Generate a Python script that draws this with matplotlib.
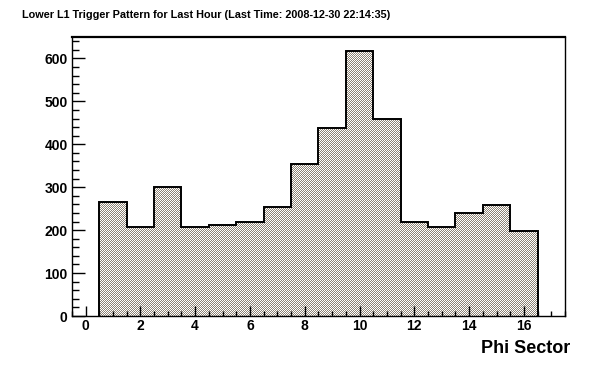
import numpy as np
import matplotlib
matplotlib.use("Agg")
import matplotlib.pyplot as plt
from matplotlib.ticker import MultipleLocator

# counts per phi sector (bins centred on 1..16)
sectors = list(range(1, 17))
counts = [265, 207, 300, 207, 213, 220, 255, 355, 439, 617, 459, 220, 207, 240, 258, 197]
title = "Lower L1 Trigger Pattern for Last Hour (Last Time: 2008-12-30 22:14:35)"
xlabel = "Phi Sector"

W, H = 596, 372
plt.rcParams["font.family"] = ["Liberation Sans", "DejaVu Sans"]
plt.rcParams["font.weight"] = "bold"

fig = plt.figure(figsize=(W / 100, H / 100), dpi=100)
fig.patch.set_facecolor("white")
# axes box in pixels: x 71.8..565, y 37..316
ax = fig.add_axes([71.8 / W, (H - 316) / H, 493.2 / W, 279 / H])
ax.set_facecolor("none")

edges = np.arange(len(sectors) + 1) + 0.5
step = ax.stairs(counts, edges, fill=True, facecolor="none", edgecolor="none", zorder=1)
ax.stairs(counts, edges, color="black", linewidth=1.4, zorder=3)

# ROOT style pixel checkerboard fill, clipped to histogram
yy, xx = np.mgrid[0:H, 0:W]
chk = ((xx + yy) % 2 == 0)
img = np.ones((H, W, 3))
img[chk] = np.array([140, 130, 116]) / 255
fi = fig.figimage(img, xo=0, yo=0, origin="lower", zorder=-1)
fi.set_clip_path(step)

ax.set_xlim(-0.5, 17.5)
ax.set_ylim(0, 650)
ax.xaxis.set_major_locator(MultipleLocator(2))
ax.xaxis.set_minor_locator(MultipleLocator(0.5))
ax.yaxis.set_major_locator(MultipleLocator(100))
ax.yaxis.set_minor_locator(MultipleLocator(20))
ax.tick_params(which="both", direction="in", top=False, right=False, width=1, color="black")
ax.tick_params(axis="x", which="major", length=7.5, pad=2.5, labelsize=10)
ax.tick_params(axis="x", which="minor", length=3.8)
ax.tick_params(axis="y", which="major", length=9.5, pad=3, labelsize=10)
ax.tick_params(axis="y", which="minor", length=5)
for s in ax.spines.values():
    s.set_linewidth(1)
ax.spines["top"].set_linewidth(1.6)

fig.text(570 / W, 1 - 353 / H, xlabel, ha="right", va="baseline", fontsize=13, fontweight="bold")
fig.text(22 / W, 1 - 17.5 / H, title, ha="left", va="baseline", fontsize=7.8, fontweight="bold")

fig.savefig("out.png", dpi=100)
